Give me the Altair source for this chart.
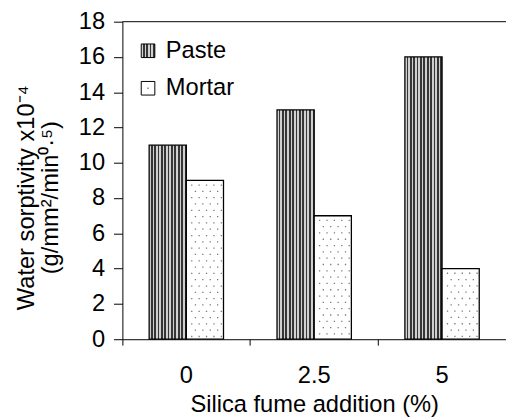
import altair as alt
import pandas as pd

# ---- data -------------------------------------------------------------
categories = ["0", "2.5", "5"]
series = ["Paste", "Mortar"]
paste = [11, 13, 16]
mortar = [9, 7, 4]
y_ticks = [0, 2, 4, 6, 8, 10, 12, 14, 16, 18]
y_max = 18

rows = []
for c, p, m in zip(categories, paste, mortar):
    rows.append({"cat": c, "series": "Paste", "value": p})
    rows.append({"cat": c, "series": "Mortar", "value": m})
df = pd.DataFrame(rows)
df_paste = df[df.series == "Paste"]
df_mortar = df[df.series == "Mortar"]

FONT = "Liberation Sans"
FS = 24
W, H = 389, 322
PAD = {"left": 116, "top": 11, "right": 0, "bottom": 77}


def stripes(n, dark="#363636", light="#d0d0d0"):
    stops = []
    for i in range(n):
        a, b, c = i / n, (i + 0.5) / n, (i + 1) / n
        stops += [
            alt.GradientStop(offset=a, color=light),
            alt.GradientStop(offset=b, color=light),
            alt.GradientStop(offset=b, color=dark),
            alt.GradientStop(offset=c, color=dark),
        ]
    return alt.LinearGradient(gradient="linear", stops=stops, x1=0, x2=1, y1=0, y2=0)


x_enc = alt.X(
    "cat:N",
    sort=categories,
    scale=alt.Scale(paddingInner=0, paddingOuter=0),
    axis=alt.Axis(
        title="Silica fume addition (%)",
        bandPosition=0,
        labelAngle=0,
        tickSize=6,
        labelPadding=19,
        titlePadding=5,
    ),
)
xo_enc = alt.XOffset("series:N", sort=series, scale=alt.Scale(paddingInner=0, paddingOuter=0.72))
y_enc = alt.Y(
    "value:Q",
    scale=alt.Scale(domain=[0, y_max], nice=False, zero=True),
    axis=alt.Axis(
        values=y_ticks,
        grid=False,
        tickSize=9,
        labelPadding=9,
        title=["Water sorptivity x10\u207b\u2074", "(g/mm\u00b2/min\u2070\u00b7\u2075)"],
        titlePadding=16,
        titleLineHeight=24,
        titleY=178,
    ),
)

paste_bars = alt.Chart(df_paste).mark_bar(
    fill=stripes(11), stroke="black", strokeWidth=1.3, xOffset=1.5
).encode(x=x_enc, xOffset=xo_enc, y=y_enc)

mortar_bars = alt.Chart(df_mortar).mark_bar(
    fill="white", stroke="black", strokeWidth=1.3, xOffset=1.5
).encode(x=x_enc, xOffset=xo_enc, y=y_enc)

dot_layers = []
row_a = [-15, -7.5, 0, 7.5, 15]
row_b = [-11.25, -3.75, 3.75, 11.25]
for offs, dash_off in ((row_a, -4), (row_b, -10.4)):
    for dx in offs:
        dot_layers.append(
            alt.Chart(df_mortar).mark_rule(
                xOffset=20.5 + dx,
                strokeDash=[1.3, 11.5],
                strokeDashOffset=dash_off,
                color="#7a7a7a",
                strokeWidth=1.3,
            ).encode(x=x_enc, y=y_enc, y2=alt.datum(0))
        )

top_frame = alt.Chart(pd.DataFrame({"value": [y_max]})).mark_rule(
    color="black", strokeWidth=1
).encode(y=y_enc)

leg_paste_sw = alt.Chart(pd.DataFrame({"label": ["Paste"]})).mark_square(
    size=190, fill=stripes(4), stroke="black", strokeWidth=1, opacity=1
).encode(x=alt.value(26), y=alt.value(29.5))
leg_mortar_sw = alt.Chart(pd.DataFrame({"label": ["Mortar"]})).mark_square(
    size=190, fill="white", stroke="black", strokeWidth=1, opacity=1
).encode(x=alt.value(26), y=alt.value(67.5))
leg_mortar_dot = alt.Chart(pd.DataFrame({"label": ["Mortar"]})).mark_square(
    size=2, fill="#7a7a7a", opacity=1
).encode(x=alt.value(26), y=alt.value(67.5))
leg_text_p = alt.Chart(pd.DataFrame({"label": ["Paste"]})).mark_text(
    align="left", baseline="middle", fontSize=FS, font=FONT, color="black"
).encode(x=alt.value(44), y=alt.value(29.5), text="label:N")
leg_text_m = alt.Chart(pd.DataFrame({"label": ["Mortar"]})).mark_text(
    align="left", baseline="middle", fontSize=FS, font=FONT, color="black"
).encode(x=alt.value(44), y=alt.value(67.5), text="label:N")

chart = alt.layer(
    paste_bars, mortar_bars, *dot_layers, top_frame,
    leg_paste_sw, leg_mortar_sw, leg_mortar_dot, leg_text_p, leg_text_m,
).properties(
    width=W, height=H, padding=PAD, autosize=alt.AutoSizeParams(type="none")
).configure_view(stroke=None).configure_axis(
    labelFont=FONT, titleFont=FONT, labelFontSize=FS, titleFontSize=FS,
    titleFontWeight="normal", labelColor="black", titleColor="black",
    domainColor="black", tickColor="black", domainWidth=1, tickWidth=1,
)

chart.save("out.html", embed_options={"renderer": "svg", "actions": False})
